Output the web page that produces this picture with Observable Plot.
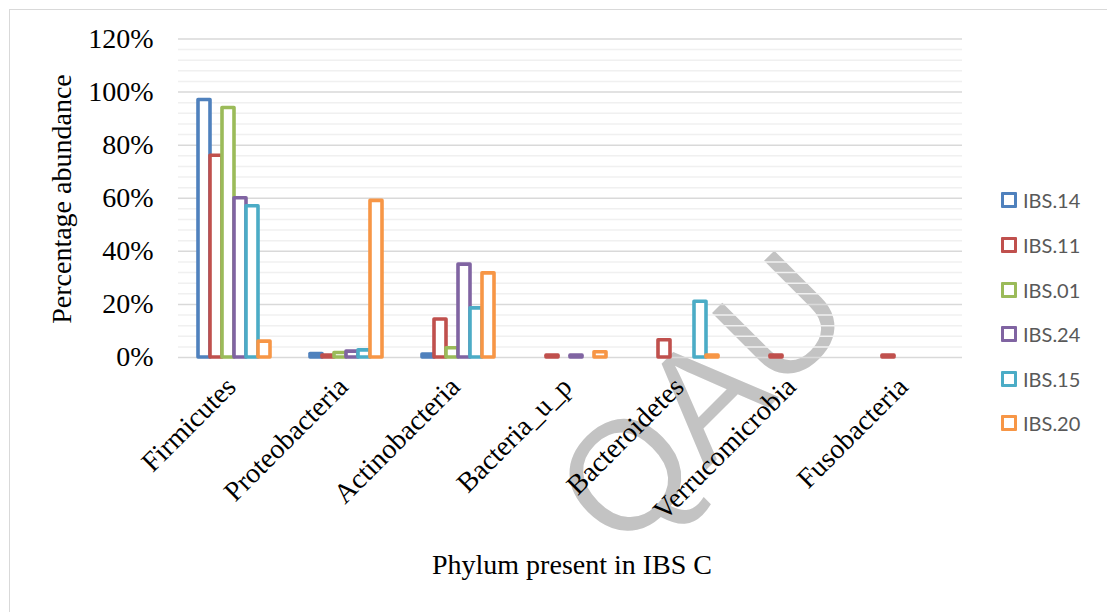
<!DOCTYPE html>
<html>
<head>
<meta charset="utf-8">
<script src="https://cdn.jsdelivr.net/npm/d3@7"></script>
<script src="https://cdn.jsdelivr.net/npm/@observablehq/plot@0.6"></script>
<style>
  html, body { margin: 0; padding: 0; background: #fff; }
  #chart { position: relative; width: 1107px; height: 612px; overflow: hidden; background: #fff; }
  #frame { position: absolute; left: 9px; top: 9px; width: 1120px; height: 640px; border: 1.5px solid #d9d9d9; box-sizing: border-box; }
  #mark-bg { position: absolute; left: 0; top: 0; }
  #plot { position: absolute; left: 0; top: 0; }
  .title { position: absolute; font-family: "Liberation Serif", "Times New Roman", serif; font-size: 28px; color: #000; white-space: nowrap; }
  #ytitle { left: 62px; top: 199px; transform: translate(-50%, -50%) rotate(-90deg); }
  #xtitle { left: 572px; top: 565px; transform: translate(-50%, -50%); }
  #legend { position: absolute; left: 1001px; top: 0; font-family: Lato, "Open Sans", sans-serif; font-size: 20px; color: #595959; }
  .item { position: absolute; left: 0; display: flex; align-items: center; transform: translateY(-50%); white-space: nowrap; }
  .swatch { width: 16px; height: 16px; box-sizing: border-box; border: 3.5px solid; background: #fff; margin-right: 6px; border-radius: 1px; }
</style>
</head>
<body>
<div id="chart">
  <div id="frame"></div>
  <svg id="mark-bg" width="1107" height="612">
    <text x="700" y="397" transform="rotate(-45 700 397)" text-anchor="middle" dy="0.36em"
      font-family="Liberation Sans, Arial, sans-serif" font-size="155" fill="#c3c3c3">QAU</text>
  </svg>
  <div id="plot"></div>
  <div id="ytitle" class="title">Percentage abundance</div>
  <div id="xtitle" class="title">Phylum present in IBS C</div>
  <div id="legend"></div>
</div>
<script>
// Phyla on the x axis and the six IBS-C samples
const phyla = ["Firmicutes", "Proteobacteria", "Actinobacteria", "Bacteria_u_p", "Bacteroidetes", "Verrucomicrobia", "Fusobacteria"];
const samples = ["IBS.14", "IBS.11", "IBS.01", "IBS.24", "IBS.15", "IBS.20"];
const sampleColors = ["#4f81bd", "#c0504d", "#9bbb59", "#8064a2", "#4bacc6", "#f79646"];

// Percentage abundance per sample, one entry per phylum (null = no value)
const ibs14 = [97, 1.3, 1.1, null, null, null, null];
const ibs11 = [76, 0.7, 14.3, 0.7, 6.5, 0.7, 0.7];
const ibs01 = [94, 1.7, 3.5, null, null, null, null];
const ibs24 = [60, 2.2, 35, 0.7, null, null, null];
const ibs15 = [57, 2.7, 18.5, null, 21, null, null];
const ibs20 = [6, 59, 31.7, 2, 0.7, null, null];

// Y axis tick values (percent)
const yTicks = [0, 20, 40, 60, 80, 100, 120];

const seriesValues = [ibs14, ibs11, ibs01, ibs24, ibs15, ibs20];
const rows = [];
phyla.forEach((p, j) => {
  samples.forEach((s, i) => {
    const v = seriesValues[i][j];
    if (v != null && v > 0) rows.push({phylum: p, sample: s, value: v});
  });
});

const minorTicks = d3.range(0, 121, 4).filter(d => d % 20 !== 0);

const plot = Plot.plot({
  width: 1107,
  height: 612,
  marginLeft: 178,
  marginRight: 145,
  marginTop: 38.5,
  marginBottom: 255,
  style: {background: "transparent", color: "#000", fontFamily: "'Liberation Serif', 'Times New Roman', serif", fontSize: "28px", overflow: "visible"},
  fx: {domain: phyla, padding: 0, axis: null},
  x: {domain: samples, paddingInner: 0, paddingOuter: 1.52, axis: null},
  y: {domain: [0, 120], ticks: yTicks, tickFormat: d => d + "%", tickSize: 0, tickPadding: 25, label: null},
  color: {domain: samples, range: sampleColors},
  marks: [
    Plot.ruleY(minorTicks, {stroke: "#f0f0f0", strokeWidth: 1.5}),
    Plot.ruleY(yTicks, {stroke: "#d9d9d9", strokeWidth: 1.5}),
    Plot.barY(rows, {
      fx: "phylum", x: "sample", y: "value",
      stroke: "sample", fill: "white", strokeWidth: 3.6, strokeLinejoin: "round"
    }),
    Plot.text(phyla, {
      fx: d => d, text: d => d, frameAnchor: "bottom",
      rotate: -45, textAnchor: "end", dy: 31, dx: 3, fontSize: 28, fill: "#000"
    })
  ]
});
document.getElementById("plot").appendChild(plot);

// Legend: hollow squares with sample names
const legend = document.getElementById("legend");
const legendY = [200, 245, 289.5, 334, 378.5, 423];
samples.forEach((s, i) => {
  const item = document.createElement("div");
  item.className = "item";
  item.style.top = legendY[i] + "px";
  const sw = document.createElement("div");
  sw.className = "swatch";
  sw.style.borderColor = sampleColors[i];
  const label = document.createElement("span");
  label.textContent = s;
  item.appendChild(sw);
  item.appendChild(label);
  legend.appendChild(item);
});
</script>
</body>
</html>
